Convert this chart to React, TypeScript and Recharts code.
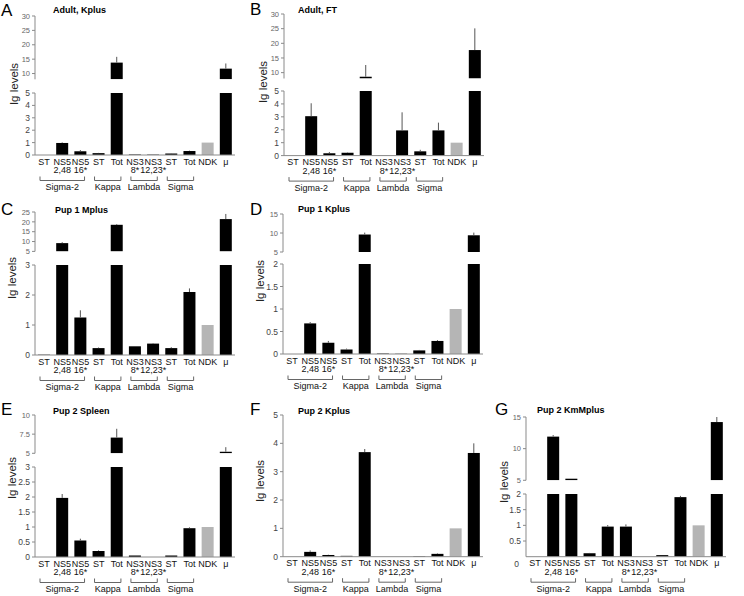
import React from 'react';
import { BarChart, Bar, XAxis, YAxis } from 'recharts';

// x categories (two-line labels) and the isotype groups under them
const LABEL_TOP = ['ST', 'NS5', 'NS5', 'ST', 'Tot', 'NS3', 'NS3', 'ST', 'Tot', 'NDK', 'μ'];
const LABEL_BOTTOM = ['', '2,48', '16*', '', '', '8*', '12,23*', '', '', '', ''];
const GROUPS = ['Sigma-2', 'Kappa', 'Lambda', 'Sigma'];
const GROUP_FIRST = [0, 3, 5, 7];
const GROUP_LAST = [2, 4, 6, 8];

// Ig levels per panel, with the upward error
const A_VALUES = [0, 0.97, 0.3, 0.15, 13.8, 0.04, 0.03, 0.12, 0.32, 1, 11.7];
const A_ERRORS = [0, 0.05, 0.1, 0.02, 2.0, 0, 0, 0.02, 0.03, 0, 1.8];
const B_VALUES = [0, 3.05, 0.18, 0.22, 8.6, 0.03, 1.95, 0.33, 1.95, 1, 17.7];
const B_ERRORS = [0, 1.0, 0.1, 0.03, 4.0, 0, 1.4, 0.12, 0.6, 0, 7.4];
const C_VALUES = [0.01, 9.2, 1.25, 0.23, 18.5, 0.29, 0.38, 0.23, 2.1, 1, 21.4];
const C_ERRORS = [0, 0.5, 0.24, 0.02, 0.4, 0.01, 0.02, 0.03, 0.12, 0, 2.6];
const D_VALUES = [0, 0.68, 0.25, 0.1, 9.6, 0.01, 0.005, 0.08, 0.29, 1, 9.4];
const D_ERRORS = [0, 0.03, 0.04, 0.02, 0.5, 0, 0, 0.01, 0.02, 0, 0.7];
const E_VALUES = [0, 1.97, 0.55, 0.2, 7.05, 0.05, 0, 0.05, 0.96, 1, 5.2];
const E_ERRORS = [0, 0.13, 0.06, 0.02, 1.15, 0, 0, 0, 0.03, 0, 0.6];
const F_VALUES = [0, 0.17, 0.06, 0.03, 3.69, 0, 0, 0.02, 0.1, 1, 3.66];
const F_ERRORS = [0, 0.05, 0.01, 0, 0.11, 0, 0, 0, 0.02, 0, 0.34];
const G_VALUES = [0, 11.9, 5.25, 0.11, 0.96, 0.96, 0, 0.05, 1.9, 1, 14.2];
const G_ERRORS = [0, 0.25, 0, 0.01, 0.05, 0.07, 0, 0, 0.04, 0, 0.9];

const FONT = '"Liberation Sans", Arial, Helvetica, sans-serif';
const AXIS = '#8a8a8a';
const PLOT_W = 200;
const BAND = PLOT_W / LABEL_TOP.length;
const YW = 30;
const MT = 6;
const MB = 6;
const XH = 45;

type Sec = { top: number; bottom: number; domain: [number, number]; ticks: number[] };
type Panel = {
  letter: string; title: string; values: number[]; errors: number[];
  axisX: number; letterX: number; letterY: number; titleX: number; titleY: number;
  labelX: number; labelY: number; upper?: Sec; lower: Sec; orphanZero?: boolean;
};

const PANELS: Panel[] = [
  { letter: 'A', title: 'Adult, Kplus', values: A_VALUES, errors: A_ERRORS, axisX: 35,
    letterX: 1, letterY: 15.5, titleX: 53, titleY: 12.5, labelX: 14, labelY: 84,
    upper: { top: 15.7, bottom: 79, domain: [8, 30], ticks: [10, 15, 20, 25, 30] },
    lower: { top: 93, bottom: 155, domain: [0, 5], ticks: [0, 1, 2, 3, 4, 5] } },
  { letter: 'B', title: 'Adult, FT', values: B_VALUES, errors: B_ERRORS, axisX: 284,
    letterX: 250, letterY: 15, titleX: 298, titleY: 12.5, labelX: 263, labelY: 82,
    upper: { top: 14, bottom: 78.5, domain: [8, 30], ticks: [10, 15, 20, 25, 30] },
    lower: { top: 90.7, bottom: 155.3, domain: [0, 5], ticks: [0, 1, 2, 3, 4, 5] } },
  { letter: 'C', title: 'Pup 1 Mplus', values: C_VALUES, errors: C_ERRORS, axisX: 35,
    letterX: 1, letterY: 214.5, titleX: 55, titleY: 213, labelX: 12, labelY: 278,
    upper: { top: 212.3, bottom: 251.7, domain: [5, 25], ticks: [5, 10, 15, 20, 25] },
    lower: { top: 265, bottom: 355, domain: [0, 3], ticks: [0, 1, 2, 3] } },
  { letter: 'D', title: 'Pup 1 Kplus', values: D_VALUES, errors: D_ERRORS, axisX: 283,
    letterX: 250, letterY: 214.5, titleX: 298, titleY: 212, labelX: 260, labelY: 281,
    upper: { top: 214, bottom: 252, domain: [5, 15], ticks: [5, 10, 15] },
    lower: { top: 264.3, bottom: 354.3, domain: [0, 2], ticks: [0, 0.5, 1, 1.5, 2] } },
  { letter: 'E', title: 'Pup 2 Spleen', values: E_VALUES, errors: E_ERRORS, axisX: 35,
    letterX: 1, letterY: 415, titleX: 53, titleY: 414, labelX: 12, labelY: 478,
    upper: { top: 415, bottom: 453.3, domain: [5, 10], ticks: [5, 7.5, 10] },
    lower: { top: 466.7, bottom: 556.7, domain: [0, 3], ticks: [0, 0.5, 1, 1.5, 2, 2.5, 3] } },
  { letter: 'F', title: 'Pup 2 Kplus', values: F_VALUES, errors: F_ERRORS, axisX: 283,
    letterX: 250, letterY: 415, titleX: 298, titleY: 414, labelX: 260, labelY: 481,
    lower: { top: 415, bottom: 556.7, domain: [0, 5], ticks: [0, 1, 2, 3, 4, 5] } },
  { letter: 'G', title: 'Pup 2 KmMplus', values: G_VALUES, errors: G_ERRORS, axisX: 526,
    letterX: 495, letterY: 415, titleX: 537, titleY: 413, labelX: 504, labelY: 482,
    upper: { top: 416.7, bottom: 480, domain: [5, 15], ticks: [5, 10, 15] },
    lower: { top: 494, bottom: 556.7, domain: [0, 2], ticks: [0.5, 1, 1.5, 2] }, orphanZero: true },
];

// bar + one-sided error line, clipped to the section it belongs to
function barShape(lo: number, hi: number, plotTop: number, plotH: number) {
  const ppu = plotH / (hi - lo);
  return (props: any) => {
    const { x, y, width, height, payload } = props;
    const v = payload.v;
    const e = payload.e;
    if (v == null || v <= lo) return <g />;
    const y0 = Math.min(y, y + height);
    const y1 = Math.max(y, y + height);
    const top = Math.max(y0, plotTop);
    const bot = Math.min(y1, plotTop + plotH);
    const fill = LABEL_TOP[Number(payload.cat)] === 'NDK' ? '#b5b5b5' : '#000';
    const cx = x + width / 2;
    return (
      <g>
        {bot > top && <rect x={x} y={top} width={width} height={bot - top} fill={fill} />}
        {v <= hi && e > 0 && (
          <line x1={cx} x2={cx} y1={y0} y2={Math.max(y0 - e * ppu, plotTop)} stroke="#555" strokeWidth={1} />
        )}
      </g>
    );
  };
}

function CategoryTick(props: any) {
  const { x, y, payload } = props;
  const i = Number(payload.value);
  const g = GROUP_FIRST.indexOf(i);
  const txt = { textAnchor: 'middle' as const, fontSize: 9, fill: '#111', fontFamily: FONT };
  let bracket = null;
  if (g >= 0) {
    const x0 = x - BAND / 2 + 5;
    const x1 = x + (GROUP_LAST[g] - i) * BAND + BAND / 2 - 5;
    bracket = (
      <g>
        <path d={`M${x0},${y + 21.5}V${y + 25.5}H${x1}V${y + 21.5}`} stroke="#666" fill="none" strokeWidth={1} />
        <text x={(x0 + x1) / 2} y={y + 35} {...txt}>{GROUPS[g]}</text>
      </g>
    );
  }
  return (
    <g>
      <text x={x} y={y + 9.5} {...txt}>{LABEL_TOP[i]}</text>
      {LABEL_BOTTOM[i] && <text x={x} y={y + 18} {...txt}>{LABEL_BOTTOM[i]}</text>}
      {bracket}
    </g>
  );
}

function PanelCharts({ p }: { p: Panel }) {
  const rows = p.values.map((v, i) => ({ cat: String(i), v, e: p.errors[i] }));
  const lo = p.lower;
  const loH = lo.bottom - lo.top;
  const up = p.upper;
  const upH = up ? up.bottom - up.top : 0;
  return (
    <>
      {up && (
        <div style={{ position: 'absolute', left: p.axisX - YW, top: up.top - MT }}>
          <BarChart width={YW + PLOT_W + 4} height={MT + upH + MB} data={rows}
            margin={{ top: MT, right: 4, bottom: MB, left: 0 }}>
            <XAxis dataKey="cat" hide />
            <YAxis type="number" domain={up.domain} ticks={up.ticks} allowDataOverflow interval={0}
              width={YW} tickSize={3} tickMargin={2} axisLine={{ stroke: AXIS }} tickLine={{ stroke: AXIS }}
              tick={{ fontSize: 7.5, fill: '#666', fontFamily: FONT }} />
            <Bar dataKey="v" barSize={12} isAnimationActive={false} shape={barShape(up.domain[0], up.domain[1], MT, upH)} />
          </BarChart>
        </div>
      )}
      <div style={{ position: 'absolute', left: p.axisX - YW, top: lo.top - MT }}>
        <BarChart width={YW + PLOT_W + 4} height={MT + loH + XH} data={rows}
          margin={{ top: MT, right: 4, bottom: 0, left: 0 }}>
          <XAxis dataKey="cat" interval={0} height={XH} tickLine={false} tickSize={0} tickMargin={0}
            axisLine={{ stroke: AXIS }} tick={(t: any) => <CategoryTick {...t} />} />
          <YAxis type="number" domain={lo.domain} ticks={lo.ticks} allowDataOverflow interval={0}
            width={YW} tickSize={3} tickMargin={2} axisLine={{ stroke: AXIS }} tickLine={{ stroke: AXIS }}
            tick={{ fontSize: 8.5, fill: '#444', fontFamily: FONT }} />
          <Bar dataKey="v" barSize={12} isAnimationActive={false} shape={barShape(lo.domain[0], lo.domain[1], MT, loH)} />
        </BarChart>
      </div>
    </>
  );
}

export default function App() {
  return (
    <div style={{ position: 'absolute', left: 0, top: 0, width: 744, height: 596, background: '#fff', overflow: 'hidden' }}>
      {PANELS.map((p) => <PanelCharts key={p.letter} p={p} />)}
      <svg width={744} height={596} style={{ position: 'absolute', left: 0, top: 0, pointerEvents: 'none' }}>
        {PANELS.map((p) => (
          <g key={p.letter} fontFamily={FONT}>
            <text x={p.letterX} y={p.letterY} fontSize={17} fill="#000">{p.letter}</text>
            <text x={p.titleX} y={p.titleY} fontSize={9} fontWeight="bold" fill="#000">{p.title}</text>
            <text x={p.labelX} y={p.labelY} fontSize={11.5} fill="#222" textAnchor="middle"
              dominantBaseline="central" transform={`rotate(-90 ${p.labelX} ${p.labelY})`}>Ig levels</text>
            {p.orphanZero && (
              <text x={p.axisX - 7} y={p.lower.bottom + 10} fontSize={8.5} fill="#444" textAnchor="end">0</text>
            )}
          </g>
        ))}
      </svg>
    </div>
  );
}
